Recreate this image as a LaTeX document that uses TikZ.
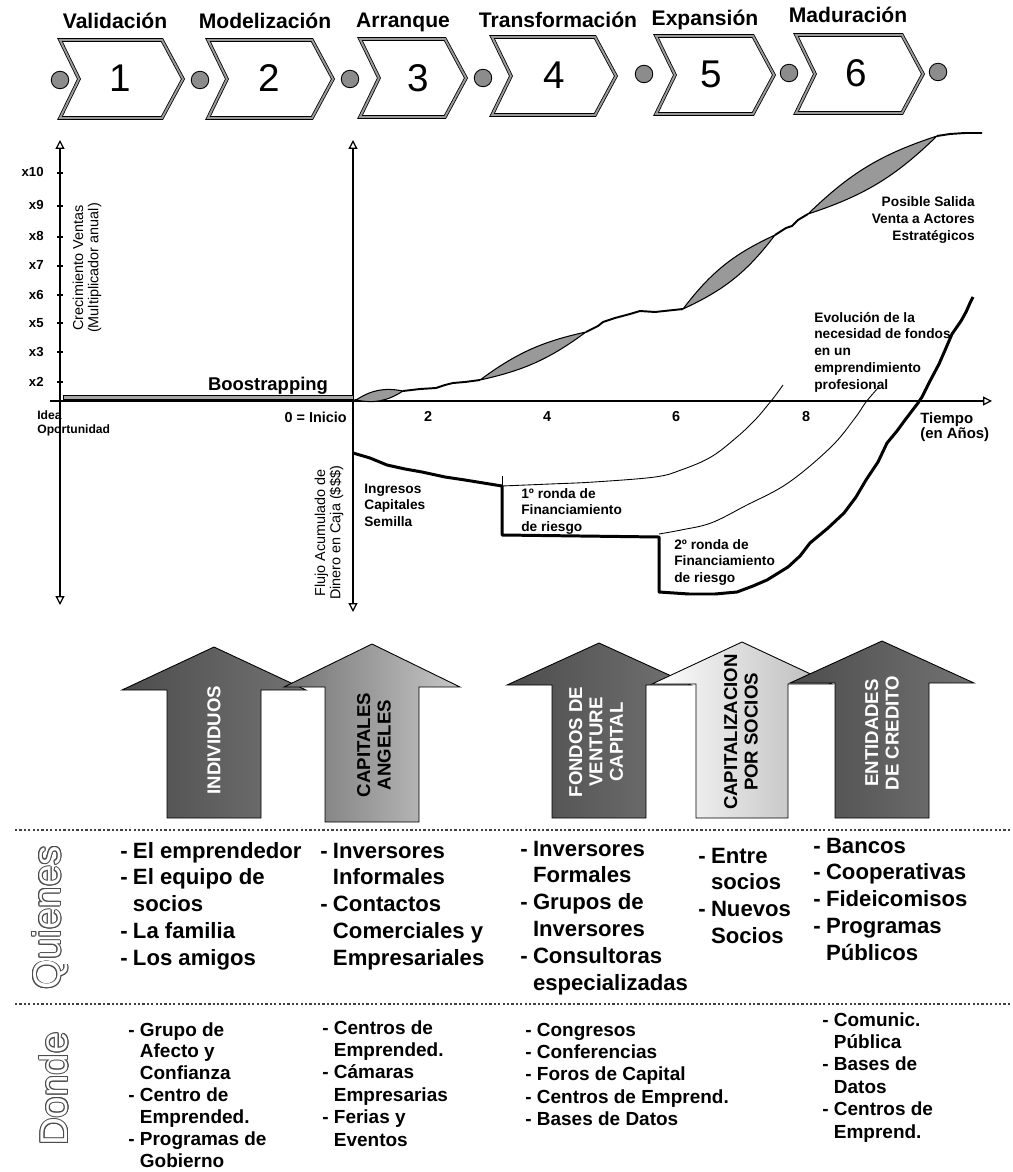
\documentclass[tikz,border=0pt]{standalone}
\usepackage{fontspec}
\setmainfont{Liberation Sans}
\usetikzlibrary{arrows.meta}
\newcommand\lns[2]{\begin{tabular}[t]{@{}#1@{}}#2\end{tabular}}
\newcommand\chevshape[3]{\draw[chevbox] (#1,#3-39) -- (#2-21,#3-39) -- (#2,#3) -- (#2-21,#3+39) -- (#1,#3+39) -- (#1+19,#3) -- cycle;}
\newcommand\bigup[7]{\draw[#7] (#1,#2) -- (#1+#4,#3) -- (#1+#5,#3) -- (#1+#5,#6) -- (#1-#5,#6) -- (#1-#5,#3) -- (#1-#4,#3) -- cycle;}
\begin{document}
\begin{tikzpicture}[x=0.02cm,y=-0.02cm,
  chevbox/.style={draw=black,line width=0.45pt,double=black!40,double distance=1.1pt,fill=white,line join=miter},
  phdot/.style={circle,draw=black,line width=0.5pt,fill=black!45,minimum size=0.35cm,inner sep=0pt},
  ttl/.style={font=\fontsize{12}{14}\selectfont\bfseries,inner sep=0pt,anchor=base},
  num/.style={font=\fontsize{22}{26}\selectfont,inner sep=0pt,anchor=base},
  axis/.style={line width=1.3pt,draw=black},
  ax/.tip={Triangle[open,length=5pt,width=5pt,line width=0.7pt]},
  tick/.style={font=\fontsize{7.5}{9}\selectfont\bfseries,inner sep=0pt,anchor=base east},
  gl/.style={font=\fontsize{7.8}{9.6}\selectfont\bfseries,inner sep=0pt},
  yr/.style={font=\fontsize{8.2}{10}\selectfont\bfseries,inner sep=0pt,anchor=base},
  rl/.style={font=\fontsize{8.2}{8.6}\selectfont,inner sep=0pt,rotate=90,align=center},
  lens/.style={draw=black,line width=0.6pt,fill=black!40},
  gline/.style={draw=black,line width=1.1pt,line join=round},
  fund/.style={draw=black,line width=1.7pt,line join=round},
  thin/.style={draw=black,line width=0.5pt},
  arrtxt/.style={font=\fontsize{10.6}{11.6}\selectfont\bfseries,rotate=90,align=center,inner sep=0pt},
  qs/.style={font=\fontsize{12.6}{15.3}\selectfont\bfseries,inner sep=0pt,anchor=base west},
  ds/.style={font=\fontsize{10.8}{12.8}\selectfont\bfseries,inner sep=0pt,anchor=base west},
  big/.style={font=\fontsize{22}{26}\selectfont,inner sep=0pt,rotate=90},
  sep/.style={draw=black!75,line width=1.3pt,dash pattern=on 1.3pt off 1.2pt}
]
\useasboundingbox (0,0) rectangle (1012,1172);

% ---------- chevrons ----------
\chevshape{60}{183}{79}
\chevshape{208}{333}{79}
\chevshape{360}{466}{78}
\chevshape{492}{616}{76}
\chevshape{656}{774}{75}
\chevshape{796}{923}{74}
\node[phdot] (c1) at (60,80) {};
\node[phdot] (c2) at (200,80) {};
\node[phdot] (c3) at (350,79) {};
\node[phdot] (c4) at (483,78) {};
\node[phdot] (c5) at (644,74) {};
\node[phdot] (c6) at (789,73) {};
\node[phdot] (c7) at (938,72) {};
\node[num] (n1) at (120,92) {1};
\node[num] (n2) at (269,92) {2};
\node[num] (n3) at (418,92) {3};
\node[num] (n4) at (554,89) {4};
\node[num] (n5) at (711,88) {5};
\node[num] (n6) at (856,87) {6};
\node[ttl] (t1) at (115,29) {Validación};
\node[ttl] (t2) at (265,29) {Modelización};
\node[ttl] (t3) at (403,28) {Arranque};
\node[ttl] (t4) at (558,28) {Transformación};
\node[ttl] (t5) at (705,26) {Expansión};
\node[ttl] (t6) at (848,23) {Maduración};

% ---------- axes ----------
\coordinate (la-top) at (60,140);
\coordinate (la-bot) at (60,605);
\coordinate (ra-top) at (353,140);
\coordinate (ra-bot) at (353,612);
\coordinate (ha-l) at (50,401);
\coordinate (ha-r) at (992,401);
\draw[axis,ax-ax] (la-bot) -- (la-top);
\draw[axis,ax-ax] (ra-bot) -- (ra-top);
\draw[axis,-ax] (ha-l) -- (ha-r);
\foreach \yy/\lab in {173/x10,206/x9,237/x8,266/x7,295/x6,323/x5,352/x3,382/x2}{
  \draw[line width=0.6pt] (57,\yy) -- (63,\yy);
  \node[tick] (tk\lab) at (44,\yy+4) {\lab};
}
\node[rl] (cv) at (87,268) {Crecimiento Ventas\\(Multiplicador anual)};
\node[rl] (fl) at (329,533) {Flujo Acumulado de\\Dinero en Caja (\$\$\$)};
% bootstrapping band
\draw[draw=black,line width=0.5pt,fill=black!35] (63,395) -- (353,395) -- (353,399.5) -- (63,399.5) -- cycle;
\node[font=\fontsize{10.5}{12}\selectfont\bfseries,inner sep=0pt,anchor=base] (boot) at (268,390) {Boostrapping};
\node[gl,anchor=base west,font=\fontsize{6.9}{8.5}\selectfont\bfseries] (idea) at (37,419) {\lns{l}{Idea\\Oportunidad}};
\node[yr,anchor=base east] (inicio) at (347,422) {0 = Inicio};
\node[yr] (y2) at (428,421) {2};
\node[yr] (y4) at (547,421) {4};
\node[yr] (y6) at (676,421) {6};
\node[yr] (y8) at (806,421) {8};
\node[gl,anchor=base west,font=\fontsize{8.5}{9.1}\selectfont\bfseries] (tiempo) at (920,423) {\lns{l}{Tiempo\\(en Años)}};

% ---------- growth curve ----------
\draw[gline] (353,401) -- (356,400);
\draw[lens] (356,400) to[bend left=22] (403,391) to[bend left=22] (356,400) -- cycle;
\draw[gline] (403,391) -- (420,389) -- (436,388) -- (445,385) -- (453,383) -- (465,382) -- (480,380);
\draw[lens] (480,380) to[bend left=12] (586,332) to[bend left=12] (480,380) -- cycle;
\draw[gline] (586,332) -- (598,326) -- (603,322) -- (615,318) -- (630,314) -- (640,311) -- (655,312) -- (683,309);
\draw[lens] (683,309) to[bend left=14] (775,235) to[bend left=14] (683,309) -- cycle;
\draw[gline] (775,235) -- (786,228) -- (792,226) -- (798,220) -- (808,214);
\draw[lens] (808,214) to[bend left=13] (937,136) to[bend left=13] (808,214) -- cycle;
\draw[gline] (937,136) -- (950,134) -- (965,133) -- (982,133);
\node[gl,anchor=base east] (salida) at (975,207) {\lns{r}{Posible Salida\\Venta a Actores\\Estratégicos}};
\node[gl,anchor=base west] (evol) at (814,322) {\lns{l}{Evolución de la\\necesidad de fondos\\en un\\emprendimiento\\profesional}};

% ---------- funding curves ----------
\draw[thin] plot[smooth,tension=0.6] coordinates {(502,486) (550,484) (594,482) (655,477) (681,470) (711,457) (737,437) (755,420) (767,406) (775,396) (783,385)};
\draw[thin] (502,476) -- (502,487);
\draw[thin] plot[smooth,tension=0.6] coordinates {(659,534) (681,530) (711,523) (745,506) (788,483) (831,447) (855,418) (866,402) (878,388)};
\draw[fund] (353,453) -- (370,458) -- (387,465) -- (405,469) -- (422,472) -- (445,477) -- (465,480) -- (502,486) -- (502,535) -- (659,537) -- (659,592) -- (689,594) -- (715,594) -- (737,592) -- (753,586) -- (767,580) -- (788,567) -- (800,556) -- (810,543) -- (828,528) -- (844,513) -- (856,497) -- (866,480) -- (878,462) -- (887,443) -- (897,431) -- (905,420) -- (918,403) -- (922,397) -- (930,381) -- (939,364) -- (946,348) -- (952,334) -- (961,321) -- (966,312) -- (970,303) -- (973,297);
\node[gl,anchor=base west] (ingresos) at (364,493) {\lns{l}{Ingresos\\Capitales\\Semilla}};
\node[gl,anchor=base west] (ronda1) at (521,498) {\lns{l}{1º ronda de\\Financiamiento\\de riesgo}};
\node[gl,anchor=base west] (ronda2) at (674,549) {\lns{l}{2º ronda de\\Financiamiento\\de riesgo}};

% ---------- big arrows ----------
\bigup{214}{647}{690}{92}{47}{818}{draw=black,line width=0.5pt,left color=black!70,right color=black!55}
\bigup{372}{644}{687}{88}{47}{822}{draw=black,line width=0.5pt,left color=black!55,right color=black!22}
\bigup{599}{643}{685}{92}{47}{818}{draw=black,line width=0.5pt,left color=black!70,right color=black!55}
\bigup{742}{642}{684}{90}{46}{818}{draw=black,line width=0.5pt,left color=white,right color=black!28}
\bigup{882}{641}{683}{92}{47}{818}{draw=black,line width=0.5pt,left color=black!70,right color=black!55}
\node[arrtxt,text=white] (a1) at (214,740) {INDIVIDUOS};
\node[arrtxt] (a2) at (374,745) {CAPITALES\\ANGELES};
\node[arrtxt,text=white] (a3) at (596,742) {FONDOS DE\\VENTURE\\CAPITAL};
\node[arrtxt] (a4) at (741,732) {CAPITALIZACION\\POR SOCIOS};
\node[arrtxt,text=white] (a5) at (882,733) {ENTIDADES\\DE CREDITO};

% ---------- separators ----------
\coordinate (s1l) at (15,830);
\coordinate (s1r) at (1012,830);
\coordinate (s2l) at (15,1004);
\coordinate (s2r) at (1012,1004);
\draw[sep] (s1l) -- (s1r);
\draw[sep] (s2l) -- (s2r);

% ---------- outlined side titles ----------
\foreach \a in {0,30,...,330}{
  \node[big,text=black!70,xshift={0.55pt*cos(\a)},yshift={0.55pt*sin(\a)}] (qo\a) at (50,918) {Quienes};
  \node[big,text=black!70,xshift={0.55pt*cos(\a)},yshift={0.55pt*sin(\a)}] (do\a) at (54,1089) {Donde};
}
\node[big,text=white] (quienes) at (50,918) {Quienes};
\node[big,text=white] (donde) at (54,1089) {Donde};

% ---------- Quienes lists ----------
\node[qs] (q1) at (120,858) {\lns{l@{\hspace{3pt}}l}{-&El emprendedor\\-&El equipo de\\&socios\\-&La familia\\-&Los amigos}};
\node[qs] (q2) at (320,858) {\lns{l@{\hspace{3pt}}l}{-&Inversores\\&Informales\\-&Contactos\\&Comerciales y\\&Empresariales}};
\node[qs] (q3) at (520,856) {\lns{l@{\hspace{3pt}}l}{-&Inversores\\&Formales\\-&Grupos de\\&Inversores\\-&Consultoras\\&especializadas}};
\node[qs] (q4) at (698,863) {\lns{l@{\hspace{3pt}}l}{-&Entre\\&socios\\-&Nuevos\\&Socios}};
\node[qs] (q5) at (813,853) {\lns{l@{\hspace{3pt}}l}{-&Bancos\\-&Cooperativas\\-&Fideicomisos\\-&Programas\\&Públicos}};

% ---------- Donde lists ----------
\node[ds,font=\fontsize{10.8}{12.5}\selectfont\bfseries] (d1) at (128,1036) {\lns{l@{\hspace{3pt}}l}{-&Grupo de\\&Afecto y\\&Confianza\\-&Centro de\\&Emprended.\\-&Programas de\\&Gobierno}};
\node[ds] (d2) at (322,1034) {\lns{l@{\hspace{3pt}}l}{-&Centros de\\&Emprended.\\-&Cámaras\\&Empresarias\\-&Ferias y\\&Eventos}};
\node[ds] (d3) at (525,1036) {\lns{l@{\hspace{3pt}}l}{-&Congresos\\-&Conferencias\\-&Foros de Capital\\-&Centros de Emprend.\\-&Bases de Datos}};
\node[ds] (d4) at (822,1026) {\lns{l@{\hspace{3pt}}l}{-&Comunic.\\&Pública\\-&Bases de\\&Datos\\-&Centros de\\&Emprend.}};
\end{tikzpicture}
\end{document}
